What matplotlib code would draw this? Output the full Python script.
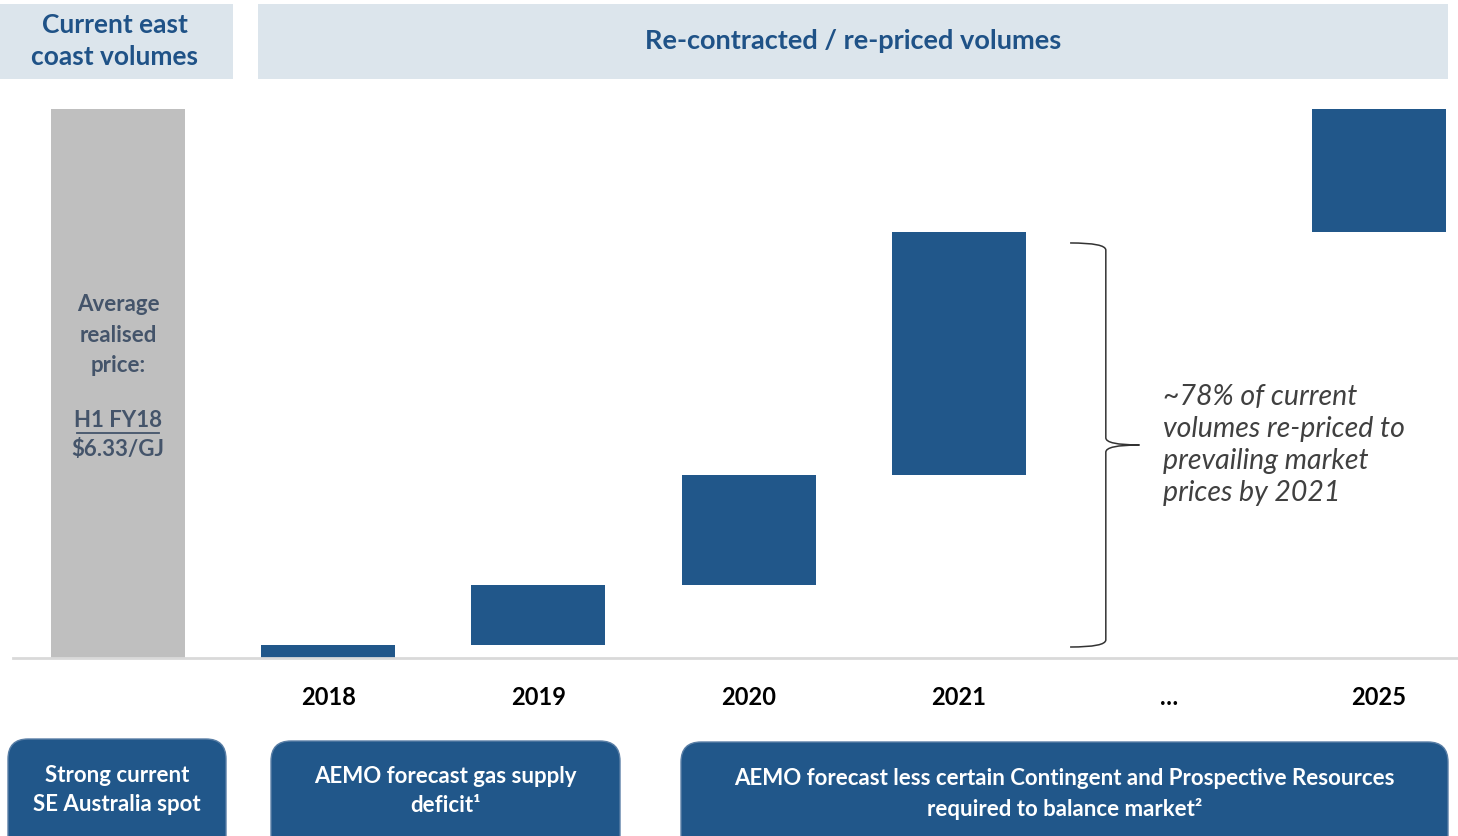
import numpy as np
import matplotlib
matplotlib.use("Agg")
import matplotlib.pyplot as plt
from matplotlib.patches import FancyBboxPatch, Rectangle, PathPatch
from matplotlib.path import Path

plt.rcParams['font.family'] = ['Lato', 'DejaVu Sans']

# ---- data ----
current_label = ''
current_volume = 100.0  # % of current east coast volumes
years = ['2018', '2019', '2020', '2021', '…', '2025']
repriced_increment = [2.4, 10.9, 20.0, 44.3, None, 22.4]  # % re-priced each period
bracket_range = [2.0, 75.6]
bracket_text = "~78% of current\nvolumes re-priced to\nprevailing market\nprices by 2021"
header_left = "Current east\ncoast volumes"
header_right = "Re-contracted / re-priced volumes"
footer_texts = ["Strong current\nSE Australia spot",
                "AEMO forecast gas supply\ndeficit¹",
                "AEMO forecast less certain Contingent and Prospective Resources\nrequired to balance market²"]

BLUE = '#21578A'
GREY = '#BFBFBF'
HEAD_BG = '#DCE5EC'
HEAD_TXT = '#1F5287'
SLATE = '#44546A'

W, H = 1458, 836
fig = plt.figure(figsize=(W / 100, H / 100), dpi=100)

def fig_rect(x0, y0, x1, y1):
    return [x0 / W, 1 - y1 / H, (x1 - x0) / W, (y1 - y0) / H]

ax = fig.add_axes(fig_rect(13, 109, 1458, 658))
step = 210.17
ax.set_xlim(-0.5, (1458 - 118) / step)
ax.set_ylim(0, 100)
width = 134 / step

ax.bar(0, current_volume, width=width, color=GREY, zorder=2)
bottom = 0.0
for i, (y, inc) in enumerate(zip(years, repriced_increment), start=1):
    if inc is None:
        continue
    ax.bar(i, inc, bottom=bottom, width=width, color=BLUE, zorder=2)
    bottom += inc

ax.set_xticks(range(len(years) + 1))
ax.set_xticklabels([current_label] + years, fontsize=17, fontweight='bold', color='black')
ax.tick_params(axis='x', length=0, pad=20)
ax.set_yticks([])
for s in ['top', 'right', 'left']:
    ax.spines[s].set_visible(False)
ax.spines['bottom'].set_color('#D9D9D9')
ax.spines['bottom'].set_linewidth(2)
ax.patch.set_alpha(0)

# text in grey bar
ax.text(0, 58.8, "Average\nrealised\nprice:", ha='center', va='center', fontsize=16,
        fontweight='bold', color=SLATE, linespacing=1.55)
ax.text(0, 43.2, "H1 FY18", ha='center', va='center', fontsize=16,
        fontweight='bold', color=SLATE)
ax.plot([-0.195, 0.195], [40.9, 40.9], color=SLATE, lw=1.3)
ax.text(0, 37.9, "$6.33/GJ", ha='center', va='center', fontsize=16,
        fontweight='bold', color=SLATE)

# brace
xl, xm, xt = 4.53, 4.70, 4.86
y0, y1 = bracket_range
ym = (y0 + y1) / 2
c = 1.3
verts = [(xl, y1), (xm, y1), (xm, y1 - c),
         (xm, ym + c), (xm, ym), (xt, ym),
         (xm, ym), (xm, ym - c),
         (xm, y0 + c), (xm, y0), (xl, y0)]
codes = [Path.MOVETO, Path.CURVE3, Path.CURVE3,
         Path.LINETO, Path.CURVE3, Path.CURVE3,
         Path.CURVE3, Path.CURVE3,
         Path.LINETO, Path.CURVE3, Path.CURVE3]
ax.add_patch(PathPatch(Path(verts, codes), fill=False, edgecolor='#333333', lw=1.1, clip_on=False))

ax.text(4.97, ym, bracket_text, ha='left', va='center', fontsize=20.5, style='italic',
        color='#404040', linespacing=1.3)

# overlay axes in pixel coordinates
ov = fig.add_axes([0, 0, 1, 1])
ov.set_xlim(0, W)
ov.set_ylim(H, 0)
ov.axis('off')
ov.patch.set_alpha(0)

ov.add_patch(Rectangle((0, 4), 233, 75, color=HEAD_BG, lw=0))
ov.add_patch(Rectangle((258, 4), 1190, 75, color=HEAD_BG, lw=0))
ov.text(115, 41, header_left, ha='center', va='center', fontsize=19, fontweight='bold',
        color=HEAD_TXT, linespacing=1.4)
ov.text(853, 41, header_right, ha='center', va='center', fontsize=19.5, fontweight='bold',
        color=HEAD_TXT)

boxes = [(8, 739, 226), (271, 741, 620), (681, 742, 1448)]
for (x0, yt, x1), txt in zip(boxes, footer_texts):
    ov.add_patch(FancyBboxPatch((x0 + 20, yt + 20), x1 - x0 - 40, 140,
                                boxstyle='round,pad=20', facecolor=BLUE,
                                edgecolor='#5A7FA6', lw=1.0, clip_on=True))
cy = [790, 791, 794]
for (x0, yt, x1), txt, y in zip(boxes, footer_texts, cy):
    ov.text((x0 + x1) / 2, y, txt, ha='center', va='center', fontsize=16, fontweight='bold',
            color='white', linespacing=1.5)

fig.savefig('out.png', dpi=100)
